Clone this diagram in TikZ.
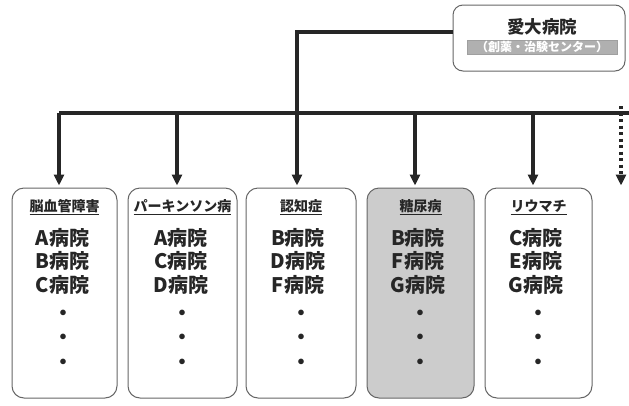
\documentclass[tikz,border=0pt]{standalone}
\usepackage{fontspec}
\setmainfont{Noto Sans CJK JP}
\usetikzlibrary{arrows.meta}
\definecolor{ink}{HTML}{262626}
\definecolor{edge}{HTML}{666666}
\tikzset{
  catbox/.style={draw=edge, line width=1pt, rounded corners=12pt, minimum width=#1, minimum height=210pt, inner sep=0pt},
  conn/.style={draw=ink, line width=3.1pt},
  arr/.style={conn, -{Triangle[width=10pt,length=11pt]}, shorten >=2pt},
  dotarr/.style={draw=ink, line width=3.1pt, dash pattern=on 3pt off 3.5pt, -{Triangle[width=10pt,length=11pt]}, shorten >=2pt},
  hdr/.style={font=\fontsize{14}{16}\selectfont\bfseries, text=ink, inner sep=0pt},
  hosp/.style={font=\fontsize{20}{22}\selectfont\bfseries, text=ink, inner sep=0pt},
  dot/.style={font=\fontsize{20}{22}\selectfont\bfseries, text=ink, inner sep=0pt}
}
\begin{document}
\begin{tikzpicture}[x=1pt,y=-1pt]
\useasboundingbox (0,0) rectangle (629,405);
% top box
\node[draw=edge, line width=1pt, rounded corners=10pt, minimum width=172pt, minimum height=66pt, inner sep=0pt] (top) at (539,38) {};
\node[font=\fontsize{17.5}{19}\selectfont\bfseries, text=ink, inner sep=0pt] (title) at (542,27) {愛大病院};
\node[fill=gray!62, draw=gray!75, minimum width=150pt, minimum height=14pt, inner sep=0pt, text=white, font=\fontsize{12}{13}\selectfont\bfseries] (sub) at (542,47) {（創薬・治験センター）};
% category boxes
\node[catbox=105pt] (b1) at (64.5,293) {};
\node[catbox=109pt] (b2) at (182.5,293) {};
\node[catbox=110pt] (b3) at (301,293) {};
\node[catbox=107pt, fill=black!20] (b4) at (420.5,293) {};
\node[catbox=107pt] (b5) at (538.5,293) {};
% headers
\node[hdr] (h1) at (64.5,207) {\underline{脳血管障害}};
\node[hdr] (h2) at (182.5,207) {\underline{パーキンソン病}};
\node[hdr] (h3) at (301,207) {\underline{認知症}};
\node[hdr] (h4) at (420.5,207) {\underline{糖尿病}};
\node[hdr] (h5) at (538.5,207) {\underline{リウマチ}};
% hospitals
\foreach \n/\x/\a/\b/\c in {1/62.5/A/B/C, 2/181/A/C/D, 3/298/B/D/F, 4/418/B/F/G, 5/536/C/E/G}{
  \node[hosp] (p\n a) at (\x,238) {\a 病院};
  \node[hosp] (p\n b) at (\x,261) {\b 病院};
  \node[hosp] (p\n c) at (\x,285) {\c 病院};
}
\foreach \n/\x in {1/63, 2/182, 3/301, 4/420, 5/538}{
  \node[dot] (d\n a) at (\x,315) {・};
  \node[dot] (d\n b) at (\x,339) {・};
  \node[dot] (d\n c) at (\x,364) {・};
}
% connectors
\coordinate (tl) at (top.west |- 0,32);
\coordinate (j1) at (59,113);
\coordinate (j2) at (177,113);
\coordinate (j3) at (297,113);
\coordinate (j4) at (415,113);
\coordinate (j5) at (533,113);
\coordinate (j6) at (621,113);
\coordinate (jend) at (629,113);
\draw[conn] (j1) -- (jend);
\draw[arr] (tl) -| (j3) -- (j3 |- b3.north);
\draw[arr] (j1) -- (j1 |- b1.north);
\draw[arr] (j2) -- (j2 |- b2.north);
\draw[arr] (j4) -- (j4 |- b4.north);
\draw[arr] (j5) -- (j5 |- b5.north);
\draw[dotarr] ([yshift=7pt]j6) -- (j6 |- b5.north);
\end{tikzpicture}
\end{document}
